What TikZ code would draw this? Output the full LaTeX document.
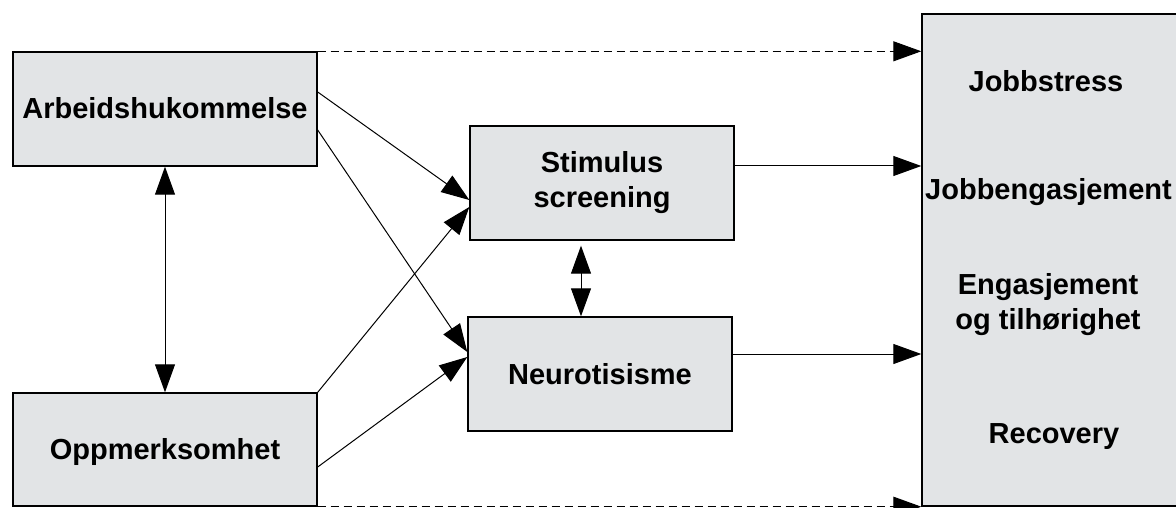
\documentclass[tikz,border=0pt]{standalone}
\usepackage{fontspec}
\setmainfont{Liberation Sans}
\usepackage{tikz}
\usetikzlibrary{arrows.meta}
\definecolor{boxgray}{RGB}{226,228,230}

\begin{document}
\begin{tikzpicture}[x=1pt,y=-1pt,
  >={Triangle[length=28pt,width=20pt]},
  boks/.style={draw,line width=1.4pt,fill=boxgray,inner sep=0pt,
    minimum width=264pt,minimum height=114pt,align=center,
    font=\bfseries\fontsize{29}{35}\selectfont},
  pil/.style={->,line width=1pt},
  tekst/.style={font=\bfseries\fontsize{29}{35}\selectfont,align=center,inner sep=0pt}]
  \useasboundingbox (0,0) rectangle (1176,508);
  \clip (0,0) rectangle (1176,508);
  \node[boks,minimum width=304pt,text height=20pt,text depth=0pt] (arbeid) at (165,109) {Arbeidshukommelse};
  \node[boks,minimum width=304pt,minimum height=113pt,text height=20pt,text depth=0pt] (oppm) at (165,449.5) {Oppmerksomhet};
  \node[boks] (stim) at (602,183) {Stimulus\\screening};
  \node[boks,text height=20pt,text depth=0pt] (nevro) at (600,374) {Neurotisisme};
  \node[boks,minimum width=276pt,minimum height=492pt] (utfall) at (1060,260) {};
  \node[tekst,anchor=base] (stress) at (1046,92) {Jobbstress};
  \node[tekst,anchor=base west] (jobbeng) at (925,200) {Jobbengasjement};
  \node[tekst] (tilhor) at (1048,305) {Engasjement\\og tilhørighet};
  \node[tekst,anchor=base] (recovery) at (1054,443) {Recovery};
  \draw[pil] ([yshift=17pt]arbeid.east) -- ([yshift=-17pt]stim.west);
  \draw[pil] ([yshift=-21pt]arbeid.east) -- ([yshift=22pt]nevro.west);
  \draw[pil] (oppm.north east) -- ([yshift=-24pt]stim.west);
  \draw[pil] ([yshift=-17.5pt]oppm.east) -- ([yshift=17pt]nevro.west);
  \draw[pil,<->] (arbeid.south) -- (oppm.north);
  \draw[pil,<->] ([xshift=-21pt,yshift=-5pt]stim.south) -- ([xshift=-21pt]stim.south |- nevro.north);
  \draw[pil] ([yshift=17pt]stim.east) -- ([yshift=17pt]stim.east -| utfall.west);
  \draw[pil] ([yshift=20pt]nevro.east) -- ([yshift=20pt]nevro.east -| utfall.west);
  \draw[pil,dash pattern=on 8pt off 5pt] (arbeid.north east) -- (arbeid.north east -| utfall.west);
  \draw[pil,dash pattern=on 8pt off 5pt] (oppm.south east) -- (oppm.south east -| utfall.west);
\end{tikzpicture}
\end{document}
